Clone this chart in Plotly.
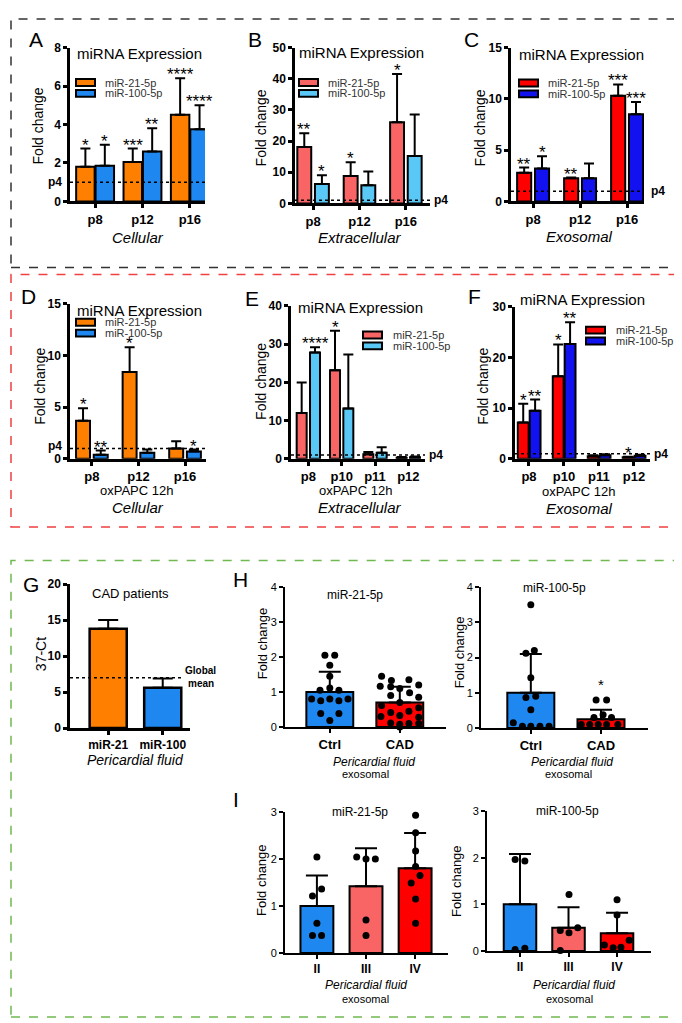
import plotly.graph_objects as go

W, H = 682, 1023
FONT = "Liberation Sans, Arial, Helvetica, sans-serif"

ORANGE = "#FF8000"
BLUE = "#1E88F0"
SALMON = "#F96565"
SKY = "#5AC8F7"
RED = "#FF0000"
DBLUE = "#1212F0"

# ---------------- data ----------------
# A  Cellular
A_cats = ["p8", "p12", "p16"]
A_21 = [1.8, 2.05, 4.5]
A_21_err = [0.95, 0.7, 1.9]
A_100 = [1.85, 2.6, 3.75]
A_100_err = [1.1, 1.2, 1.25]
A_21_sig = ["*", "***", "****"]
A_100_sig = ["*", "**", "****"]

# B  Extracellular
B_cats = ["p8", "p12", "p16"]
B_21 = [18.1, 8.8, 26.0]
B_21_err = [4.4, 4.4, 15.5]
B_100 = [6.2, 5.8, 15.2]
B_100_err = [2.8, 4.4, 13.3]
B_21_sig = ["**", "*", "*"]
B_100_sig = ["*", "", ""]

# C  Exosomal
C_cats = ["p8", "p12", "p16"]
C_21 = [2.8, 2.25, 10.3]
C_21_err = [0.5, 0.08, 1.1]
C_100 = [3.2, 2.25, 8.5]
C_100_err = [1.2, 1.45, 1.2]
C_21_sig = ["**", "**", "***"]
C_100_sig = ["*", "", "***"]

# D  oxPAPC cellular
D_cats = ["p8", "p12", "p16"]
D_21 = [3.7, 8.4, 1.0]
D_21_err = [1.2, 2.4, 0.7]
D_100 = [0.4, 0.6, 0.7]
D_100_err = [0.4, 0.3, 0.2]
D_21_sig = ["*", "*", ""]
D_100_sig = ["**", "", "*"]

# E  oxPAPC extracellular
E_cats = ["p8", "p10", "p11", "p12"]
E_21 = [12.0, 23.2, 1.2, 0.3]
E_21_err = [8.0, 10.3, 0.6, 0.2]
E_100 = [27.8, 13.2, 1.6, 0.4]
E_100_err = [1.4, 14.1, 1.4, 0.2]
E_21_sig = ["", "*", "", ""]
E_100_sig = ["****", "", "", ""]

# F  oxPAPC exosomal
F_cats = ["p8", "p10", "p11", "p12"]
F_21 = [7.2, 16.3, 0.5, 0.3]
F_21_err = [3.7, 6.3, 0.2, 0.1]
F_100 = [9.5, 22.7, 0.7, 0.6]
F_100_err = [2.2, 4.3, 0.2, 0.2]
F_21_sig = ["*", "*", "", "*"]
F_100_sig = ["**", "**", "", ""]

# G  CAD patients (37-Ct)
G_cats = ["miR-21", "miR-100"]
G_vals = [13.8, 5.6]
G_err = [1.2, 1.3]
G_global_mean = 7.0

# H  pericardial fluid exosomal, Ctrl vs CAD
H_cats = ["Ctrl", "CAD"]
H21_vals = [1.0, 0.7]
H21_err = [0.58, 0.45]
H21_ctrl_pts = [2.05, 2.05, 1.77, 1.45, 1.12, 1.05, 1.05, 0.8, 0.75, 0.8, 0.75, 0.8, 0.39, 0.39, 0.19]
H21_ctrl_dx = [-0.07, 0.07, 0.0, 0.0, 0.0, -0.14, 0.13, -0.26, -0.13, 0.0, 0.13, 0.26, -0.13, 0.13, 0.0]
H21_cad_pts = [1.45, 1.35, 1.33, 1.2, 1.17, 1.15, 1.1, 0.98, 0.9, 0.85, 0.7, 0.62, 0.55, 0.45,
               0.42, 0.33, 0.3, 0.28, 0.12, 0.1, 0.1, 0.08, 0.0]
H21_cad_dx = [-0.26, 0.13, -0.12, 0.27, -0.28, -0.13, 0.0, 0.14, -0.13, 0.27, 0.0, -0.26, 0.27, 0.13,
              -0.13, 0.0, -0.27, 0.27, -0.13, 0.13, 0.27, 0.0, 0.0]
H100_vals = [1.0, 0.25]
H100_err = [1.1, 0.27]
H100_ctrl_pts = [3.5, 2.2, 2.12, 1.43, 0.87, 0.9, 0.52, 0.15, 0.05, 0.05, 0.05, 0.05]
H100_ctrl_dx = [0.0, 0.05, -0.07, 0.0, -0.07, 0.07, 0.0, -0.25, -0.12, 0.0, 0.13, 0.26]
H100_cad_pts = [0.8, 0.8, 0.38, 0.3, 0.3, 0.1, 0.1, 0.1, 0.1, 0.1, -0.02]
H100_cad_dx = [-0.07, 0.08, 0.03, -0.1, 0.15, -0.28, -0.16, -0.04, 0.08, 0.24, 0.0]
H100_star_y = 1.25

# I  by NYHA class
I_cats = ["II", "III", "IV"]
I21_vals = [1.0, 1.42, 1.8]
I21_err = [0.65, 0.81, 0.75]
I21_pts = [[2.04, 1.36, 1.21, 0.63, 0.37, 0.37],
           [2.04, 2.0, 2.0, 0.70, 0.37],
           [2.93, 2.56, 2.17, 1.84, 1.65, 1.49, 1.15, 0.63]]
I21_dx = [[0.0, 0.095, -0.09, 0.0, -0.09, 0.095],
          [-0.19, 0.0, 0.19, 0.0, 0.0],
          [0.01, 0.01, 0.01, 0.01, 0.1, -0.08, 0.01, 0.01]]
I100_vals = [1.0, 0.5, 0.38]
I100_err = [1.08, 0.44, 0.44]
I100_pts = [[1.96, 1.93, 0.03, 0.06],
            [1.21, 0.44, 0.5, 0.39, 0.01],
            [1.1, 0.77, 0.23, 0.13, 0.07, 0.08]]
I100_dx = [[-0.1, 0.1, -0.1, 0.1],
           [0.01, -0.17, 0.19, 0.01, -0.17],
           [0.0, 0.0, 0.25, -0.26, -0.08, 0.08]]
I_colors = [BLUE, SALMON, RED]

# ---------------- helpers ----------------
fig = go.Figure()
shapes, annos = [], []


def X(p):
    return p / W


def Y(p):
    return 1 - p / H


_n = [0]


def new_axes(x0, x1, ytop, ybot, xr, yr, yticks, cats, tick_bold=True, lw=2.5,
             catsize=13, ticksize=12):
    _n[0] += 1
    n = _n[0]
    s = "" if n == 1 else str(n)
    common = dict(showline=True, linecolor="black", linewidth=lw, ticks="outside",
                  ticklen=4, tickwidth=lw, tickcolor="black", showgrid=False,
                  zeroline=False, fixedrange=True)
    xa = dict(domain=[X(x0), X(x1)], range=xr, anchor="y" + s,
              tickvals=list(range(len(cats))), ticktext=[f"<b>{c}</b>" for c in cats],
              tickfont=dict(family=FONT, size=catsize, color="black"), **common)
    ya = dict(domain=[Y(ybot), Y(ytop)], range=yr, anchor="x" + s,
              tickvals=yticks,
              ticktext=[(f"<b>{v}</b>" if tick_bold else str(v)) for v in yticks],
              tickfont=dict(family=FONT, size=ticksize, color="black"), **common)
    fig.update_layout(**{"xaxis" + s: xa, "yaxis" + s: ya})
    return "x" + s, "y" + s


def add_bars(xr, yr, vals, errs, color, width, offset, cap=5, lw=2, eth=2):
    fig.add_trace(go.Bar(
        x=list(range(len(vals))), y=vals, width=width, offset=offset,
        marker=dict(color=color, line=dict(color="black", width=lw)),
        error_y=dict(type="data", symmetric=False, array=errs,
                     arrayminus=[0] * len(vals), color="black", thickness=eth, width=cap),
        xaxis=xr, yaxis=yr, hoverinfo="skip"))


def add_stars(xr, yr, vals, errs, sig, width, offset, size=17, yshift=-8):
    for i, (v, e, s) in enumerate(zip(vals, errs, sig)):
        if s:
            annos.append(dict(x=i + offset + width / 2, y=v + e, xref=xr, yref=yr, text=s,
                              showarrow=False, yanchor="bottom", yshift=yshift,
                              font=dict(family=FONT, size=size, color="black")))


def ref_line(xr, yr, y, x0=0, x1=1):
    shapes.append(dict(type="line", xref=xr + " domain", yref=yr, x0=x0, x1=x1, y0=y, y1=y,
                       line=dict(color="black", width=1.5, dash="dot")))


def text(px, py, s, size, xanchor="center", angle=0, color="black"):
    annos.append(dict(x=X(px), y=Y(py), xref="paper", yref="paper", text=s, showarrow=False,
                      xanchor=xanchor, yanchor="middle", textangle=angle,
                      font=dict(family=FONT, size=size, color=color)))


def legend(px, pys, colors, labels, tx):
    for py, c, l in zip(pys, colors, labels):
        shapes.append(dict(type="rect", xref="paper", yref="paper", x0=X(px), x1=X(px + 19),
                           y0=Y(py + 3.5), y1=Y(py - 3.5), fillcolor=c,
                           line=dict(color="black", width=2)))
        text(tx, py, l, 11, xanchor="left", color="#333333")


def add_points(xr, yr, idx, vals, dx, size=7):
    fig.add_trace(go.Scatter(x=[idx + d for d in dx], y=vals, mode="markers",
                             marker=dict(color="black", size=size), cliponaxis=False,
                             xaxis=xr, yaxis=yr, hoverinfo="skip"))


def p4_label(yr, px, anchor, yshift=0):
    annos.append(dict(x=X(px), y=1, xref="paper", yref=yr, text="<b>p4</b>", showarrow=False,
                      xanchor=anchor, yanchor="middle", yshift=yshift,
                      font=dict(family=FONT, size=12, color="black")))


LEG = ["miR-21-5p", "miR-100-5p"]

# ---------------- panel A ----------------
xa, ya = new_axes(62, 197, 33, 189, [-0.53, 2.32], [0, 8], [0, 2, 4, 6, 8], A_cats)
add_bars(xa, ya, A_21, A_21_err, ORANGE, 0.39, -0.40)
add_bars(xa, ya, A_100, A_100_err, BLUE, 0.39, 0.01)
add_stars(xa, ya, A_21, A_21_err, A_21_sig, 0.39, -0.40)
add_stars(xa, ya, A_100, A_100_err, A_100_sig, 0.39, 0.01)
ref_line(xa, ya, 1)
p4_label(ya, 56, "right")
legend(68, [68.5, 79.5], [ORANGE, BLUE], LEG, 95)
text(67, 39, "miRNA Expression", 15, xanchor="left")
text(30, 113, "Fold change", 14, angle=-90)
text(130, 226, "<i>Cellular</i>", 15)
text(28, 25, "A", 21)

# ---------------- panel B ----------------
xb, yb = new_axes(287, 422, 33, 191, [-0.39, 2.52], [0, 50], [0, 10, 20, 30, 40, 50], B_cats)
add_bars(xb, yb, B_21, B_21_err, SALMON, 0.3, -0.34)
add_bars(xb, yb, B_100, B_100_err, SKY, 0.3, 0.04)
add_stars(xb, yb, B_21, B_21_err, B_21_sig, 0.3, -0.34)
add_stars(xb, yb, B_100, B_100_err, B_100_sig, 0.3, 0.04)
ref_line(xb, yb, 1)
p4_label(yb, 424, "left")
legend(291, [68.5, 79.5], [SALMON, SKY], LEG, 318)
text(289, 38, "miRNA Expression", 15, xanchor="left")
text(253, 115, "Fold change", 14, angle=-90)
text(352, 226, "<i>Extracellular</i>", 15)
text(247, 25, "B", 21)

# ---------------- panel C ----------------
xc, yc = new_axes(503, 636, 33, 189, [-0.47, 2.36], [0, 15], [0, 5, 10, 15], C_cats)
add_bars(xc, yc, C_21, C_21_err, RED, 0.3, -0.34)
add_bars(xc, yc, C_100, C_100_err, DBLUE, 0.3, 0.04)
add_stars(xc, yc, C_21, C_21_err, C_21_sig, 0.3, -0.34)
add_stars(xc, yc, C_100, C_100_err, C_100_sig, 0.3, 0.04)
ref_line(xc, yc, 1)
p4_label(yc, 641, "left")
legend(511, [69, 80], [RED, DBLUE], LEG, 538)
text(509, 40, "miRNA Expression", 15, xanchor="left")
text(472, 115, "Fold change", 14, angle=-90)
text(571, 225, "<i>Exosomal</i>", 15)
text(464, 25, "C", 21)

# ---------------- panel D ----------------
xd, yd = new_axes(62, 198, 293, 450, [-0.47, 2.45], [0, 15], [0, 5, 10, 15], D_cats)
add_bars(xd, yd, D_21, D_21_err, ORANGE, 0.3, -0.34)
add_bars(xd, yd, D_100, D_100_err, BLUE, 0.3, 0.04)
add_stars(xd, yd, D_21, D_21_err, D_21_sig, 0.3, -0.34)
add_stars(xd, yd, D_100, D_100_err, D_100_sig, 0.3, 0.04)
ref_line(xd, yd, 1)
p4_label(yd, 56, "right", yshift=3)
legend(68, [311.5, 322.5], [ORANGE, BLUE], LEG, 95)
text(67, 300, "miRNA Expression", 15, xanchor="left")
text(32, 377, "Fold change", 14, angle=-90)
text(128, 482, "oxPAPC 12h", 13)
text(130, 499, "<i>Cellular</i>", 15)
text(20, 285, "D", 21)

# ---------------- panel E ----------------
xe, ye = new_axes(283, 417, 295, 450, [-0.52, 3.5], [0, 40], [0, 10, 20, 30, 40], E_cats)
add_bars(xe, ye, E_21, E_21_err, SALMON, 0.3, -0.35)
add_bars(xe, ye, E_100, E_100_err, SKY, 0.3, 0.05)
add_stars(xe, ye, E_21, E_21_err, E_21_sig, 0.3, -0.35)
add_stars(xe, ye, E_100, E_100_err, E_100_sig, 0.3, 0.05)
ref_line(xe, ye, 1)
p4_label(ye, 419, "left")
legend(355, [324.5, 335.5], [SALMON, SKY], LEG, 383)
text(288, 297, "miRNA Expression", 15, xanchor="left")
text(253, 372, "Fold change", 14, angle=-90)
text(347, 482, "oxPAPC 12h", 13)
text(352, 499, "<i>Extracellular</i>", 15)
text(244, 287, "E", 21)

# ---------------- panel F ----------------
xf, yf = new_axes(507, 642, 296, 450, [-0.4, 3.46], [0, 30], [0, 10, 20, 30], F_cats)
add_bars(xf, yf, F_21, F_21_err, RED, 0.31, -0.32)
add_bars(xf, yf, F_100, F_100_err, DBLUE, 0.31, 0.02)
add_stars(xf, yf, F_21, F_21_err, F_21_sig, 0.31, -0.32)
add_stars(xf, yf, F_100, F_100_err, F_100_sig, 0.31, 0.02)
ref_line(xf, yf, 1)
p4_label(yf, 644, "left")
legend(578, [319.5, 330.5], [RED, DBLUE], LEG, 606)
text(510, 288, "miRNA Expression", 15, xanchor="left")
text(475, 377, "Fold change", 14, angle=-90)
text(570, 483, "oxPAPC 12h", 13)
text(571, 500, "<i>Exosomal</i>", 15)
text(467, 285, "F", 21)

# ---------------- panel G ----------------
xg, yg = new_axes(62, 182, 577, 723, [-0.7, 1.5], [0, 20], [0, 5, 10, 15, 20], G_cats,
                  catsize=12)
fig.add_trace(go.Bar(
    x=list(range(len(G_vals))), y=G_vals, width=0.68, offset=-0.34,
    marker=dict(color=[ORANGE, BLUE], line=dict(color="black", width=2.5)),
    error_y=dict(type="data", symmetric=False, array=G_err, arrayminus=[0, 0],
                 color="black", thickness=2, width=10),
    xaxis=xg, yaxis=yg, hoverinfo="skip"))
ref_line(xg, yg, G_global_mean, 0, 0.93)
text(192, 665, "<b>Global</b>", 10)
text(193, 678, "<b>mean</b>", 10)
text(122, 587, "CAD patients", 13)
text(33, 648, "37-Ct", 14, angle=-90)
text(127, 755, "<i>Pericardial fluid</i>", 14)
text(23, 577, "G", 21)

# ---------------- panel H ----------------
xh1, yh1 = new_axes(277, 438, 580, 722, [-0.64, 1.66], [0, 4], [0, 1, 2, 3, 4], H_cats,
                    tick_bold=False, lw=2, ticksize=11)
fig.add_trace(go.Bar(
    x=list(range(2)), y=H21_vals, width=0.67, offset=-0.335,
    marker=dict(color=[BLUE, RED], line=dict(color="black", width=2)),
    error_y=dict(type="data", symmetric=False, array=H21_err, arrayminus=[0, 0],
                 color="black", thickness=2, width=11),
    xaxis=xh1, yaxis=yh1, hoverinfo="skip"))
add_points(xh1, yh1, 0, H21_ctrl_pts, H21_ctrl_dx)
add_points(xh1, yh1, 1, H21_cad_pts, H21_cad_dx)
text(347, 588, "miR-21-5p", 12)
text(254, 637, "Fold change", 13, angle=-90)
text(366, 757, "<i>Pericardial fluid</i>", 12)
text(357, 770, "exosomal", 11)
text(233, 572, "H", 21)

xh2, yh2 = new_axes(473, 640, 580, 723, [-0.71, 1.67], [0, 4], [0, 1, 2, 3, 4], H_cats,
                    tick_bold=False, lw=2, ticksize=11)
fig.add_trace(go.Bar(
    x=list(range(2)), y=H100_vals, width=0.67, offset=-0.335,
    marker=dict(color=[BLUE, RED], line=dict(color="black", width=2)),
    error_y=dict(type="data", symmetric=False, array=H100_err, arrayminus=[0, 0],
                 color="black", thickness=2, width=11),
    xaxis=xh2, yaxis=yh2, hoverinfo="skip"))
add_points(xh2, yh2, 0, H100_ctrl_pts, H100_ctrl_dx)
add_points(xh2, yh2, 1, H100_cad_pts, H100_cad_dx)
annos.append(dict(x=1, y=H100_star_y, xref=xh2, yref=yh2, text="*", showarrow=False,
                  yanchor="middle", font=dict(family=FONT, size=15, color="black")))
text(546, 581, "miR-100-5p", 12)
text(451, 646, "Fold change", 13, angle=-90)
text(564, 757, "<i>Pericardial fluid</i>", 12)
text(560, 770, "exosomal", 11)

# ---------------- panel I ----------------
xi1, yi1 = new_axes(277, 440, 808, 951, [-0.65, 2.67], [0, 3], [0, 1, 2, 3], I_cats,
                    tick_bold=False, lw=2, catsize=12, ticksize=11)
fig.add_trace(go.Bar(
    x=list(range(3)), y=I21_vals, width=0.67, offset=-0.335,
    marker=dict(color=I_colors, line=dict(color="black", width=2)),
    error_y=dict(type="data", symmetric=False, array=I21_err, arrayminus=[0, 0, 0],
                 color="black", thickness=2, width=11),
    xaxis=xi1, yaxis=yi1, hoverinfo="skip"))
for k in range(3):
    add_points(xi1, yi1, k, I21_pts[k], I21_dx[k])
text(352, 808, "miR-21-5p", 12)
text(254, 877, "Fold change", 13, angle=-90)
text(358, 983, "<i>Pericardial fluid</i>", 12)
text(357, 998, "exosomal", 11)
text(228, 795, "I", 21)

xi2, yi2 = new_axes(479, 643, 807, 949, [-0.68, 2.7], [0, 3], [0, 1, 2, 3], I_cats,
                    tick_bold=False, lw=2, catsize=12, ticksize=11)
fig.add_trace(go.Bar(
    x=list(range(3)), y=I100_vals, width=0.67, offset=-0.335,
    marker=dict(color=I_colors, line=dict(color="black", width=2)),
    error_y=dict(type="data", symmetric=False, array=I100_err, arrayminus=[0, 0, 0],
                 color="black", thickness=2, width=11),
    xaxis=xi2, yaxis=yi2, hoverinfo="skip"))
for k in range(3):
    add_points(xi2, yi2, k, I100_pts[k], I100_dx[k])
text(559, 807, "miR-100-5p", 12)
text(449, 878, "Fold change", 13, angle=-90)
text(566, 983, "<i>Pericardial fluid</i>", 12)
text(561, 998, "exosomal", 11)

# ---------------- dashed frames ----------------
for (x0, y0, x1, y1, col) in [(3, 4, 679, 256, "#333333"),
                               (3, 263, 678, 519, "#F04040"),
                               (3, 553, 677, 1016, "#70B850")]:
    shapes.append(dict(type="rect", xref="paper", yref="paper", x0=X(x0), x1=X(x1),
                       y0=Y(y1), y1=Y(y0), line=dict(color=col, width=1.5, dash="dash"),
                       fillcolor="rgba(0,0,0,0)"))

fig.update_layout(width=W, height=H, margin=dict(l=0, r=0, t=0, b=0), autosize=False,
                  paper_bgcolor="white", plot_bgcolor="white", showlegend=False,
                  barmode="overlay", shapes=shapes, annotations=annos,
                  font=dict(family=FONT, color="black"))

fig.write_html("out.html")
